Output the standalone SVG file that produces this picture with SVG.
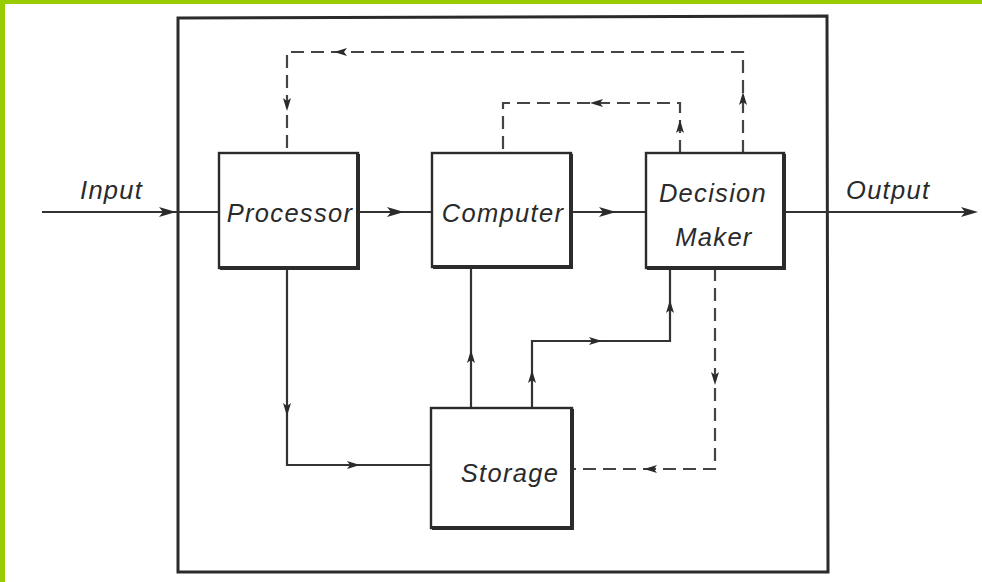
<svg xmlns="http://www.w3.org/2000/svg" xmlns:xlink="http://www.w3.org/1999/xlink" width="982" height="582" viewBox="0 0 982 582">
  <style>
    .frame { fill: none; stroke: #2b2b2b; stroke-width: 3; }
    .box { fill: #ffffff; stroke: #2b2b2b; stroke-width: 2.4; }
    .shade { fill: none; stroke: #2b2b2b; stroke-width: 4; }
    .flow { fill: none; stroke: #333333; stroke-width: 2.2; }
    .ctrl { fill: none; stroke: #444444; stroke-width: 2.2; stroke-dasharray: 13 7; }
    .label { font-family: "Liberation Sans", Arial, sans-serif; font-style: italic; font-size: 25.5px; fill: #2a2a2a; letter-spacing: 1.3px; }
    .head { fill: #2b2b2b; }
  </style>
  <defs>
    <!-- arrowhead pointing right, tip at origin -->
    <path id="ah" class="head" d="M0,0 L-17,-5 L-13,0 L-17,5 Z"/>
    <path id="ahs" class="head" d="M0,0 L-13,-4 L-10,0 L-13,4 Z"/>
  </defs>

  <rect x="0" y="0" width="982" height="582" fill="#ffffff"/>
  <!-- lime edge strips -->
  <rect x="0" y="0" width="982" height="4" fill="#99cc00"/>
  <rect x="0" y="0" width="5" height="582" fill="#99cc00"/>

  <!-- enclosing system boundary -->
  <path class="frame" d="M178,18 L827,16 L828,572 L178,572 Z"/>

  <g id="connectors">
    <!-- solid data flow -->
    <path class="flow" d="M42,212 L219,212"/>
    <path class="flow" d="M358,212 L432,212"/>
    <path class="flow" d="M571,212 L646,212"/>
    <path class="flow" d="M784,212 L975,212"/>
    <path class="flow" d="M287,268 L287,465 L431,465"/>
    <path class="flow" d="M471,407 L471,267"/>
    <path class="flow" d="M532,407 L532,341 L670,341 L670,268"/>
    <!-- dashed control flow -->
    <path class="ctrl" d="M743,153 L743,52 L287,52 L287,153"/>
    <path class="ctrl" d="M680,153 L680,103 L503,103 L503,153"/>
    <path class="ctrl" d="M715,268 L715,469 L572,469"/>

    <!-- arrowheads -->
    <use xlink:href="#ah" transform="translate(176,212)"/>
    <use xlink:href="#ah" transform="translate(404,212)"/>
    <use xlink:href="#ah" transform="translate(616,212)"/>
    <use xlink:href="#ah" transform="translate(978,212)"/>
    <use xlink:href="#ahs" transform="translate(287,416) rotate(90)"/>
    <use xlink:href="#ahs" transform="translate(360,465)"/>
    <use xlink:href="#ahs" transform="translate(471,350) rotate(-90)"/>
    <use xlink:href="#ahs" transform="translate(532,370) rotate(-90)"/>
    <use xlink:href="#ahs" transform="translate(602,341)"/>
    <use xlink:href="#ahs" transform="translate(670,300) rotate(-90)"/>
    <use xlink:href="#ahs" transform="translate(334,52) rotate(180)"/>
    <use xlink:href="#ahs" transform="translate(287,111) rotate(90)"/>
    <use xlink:href="#ahs" transform="translate(743,92) rotate(-90)"/>
    <use xlink:href="#ahs" transform="translate(590,103) rotate(180)"/>
    <use xlink:href="#ahs" transform="translate(680,120) rotate(-90)"/>
    <use xlink:href="#ahs" transform="translate(715,385) rotate(90)"/>
    <use xlink:href="#ahs" transform="translate(644,469) rotate(180)"/>
  </g>

  <g id="input-label">
    <text class="label" x="80" y="199">Input</text>
  </g>
  <g id="output-label">
    <text class="label" x="846" y="199">Output</text>
  </g>

  <g id="processor">
    <rect class="box" x="219" y="153" width="139" height="115"/>
    <path class="shade" d="M220,268 L358,268 L358,154"/>
    <text class="label" x="290" y="222" text-anchor="middle">Processor</text>
  </g>

  <g id="computer">
    <rect class="box" x="432" y="153" width="139" height="114"/>
    <path class="shade" d="M433,267 L571,267 L571,154"/>
    <text class="label" x="503" y="222" text-anchor="middle">Computer</text>
  </g>

  <g id="decision-maker">
    <rect class="box" x="646" y="153" width="138" height="115"/>
    <path class="shade" d="M647,268 L784,268 L784,154"/>
    <text class="label" x="713" y="202" text-anchor="middle">Decision</text>
    <text class="label" x="714" y="246" text-anchor="middle">Maker</text>
  </g>

  <g id="storage">
    <rect class="box" x="431" y="408" width="141" height="120"/>
    <path class="shade" d="M432,528 L572,528 L572,409"/>
    <text class="label" x="510" y="482" text-anchor="middle">Storage</text>
  </g>
</svg>
